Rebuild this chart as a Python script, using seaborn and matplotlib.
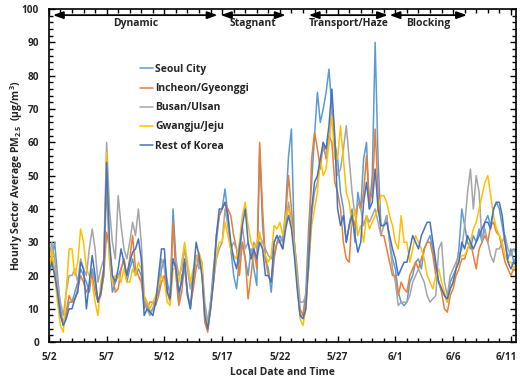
import matplotlib
matplotlib.use('Agg')
import matplotlib.pyplot as plt
import matplotlib.dates as mdates
import matplotlib.transforms as mtransforms
from matplotlib.ticker import MultipleLocator, FixedLocator
import numpy as np
import pandas as pd
import seaborn as sns

sns.set_theme(style='ticks')
plt.rcParams['font.family'] = ['Open Sans', 'DejaVu Sans']
plt.rcParams['font.weight'] = 'bold'
plt.rcParams['mathtext.fontset'] = 'custom'
plt.rcParams['mathtext.rm'] = 'Open Sans:bold'
plt.rcParams['mathtext.it'] = 'Open Sans:bold'
plt.rcParams['mathtext.bf'] = 'Open Sans:bold'

# 6-hourly values, starting 2016-05-02 00:00
seoul = [22,25,30,20, 10,5,8,12, 12,15,18,22, 20,18,15,22, 18,12,15,20,
         48,25,15,18, 20,22,25,18, 22,25,20,22, 20,10,12,9, 10,13,15,22,
         25,18,14,40, 25,12,20,22, 15,10,18,26, 24,22,8,4, 12,22,30,38,
         40,46,38,28, 20,16,25,30, 25,20,28,22, 17,58,35,25, 22,15,25,30,
         32,30,40,56, 64,30,18,8, 8,15,35,48, 62,75,66,70, 75,82,70,60,
         55,45,40,30, 35,40,30,45, 40,55,60,40, 50,90,55,35, 35,38,30,25,
         22,15,12,11, 12,18,20,24, 25,22,28,30, 32,28,22,18, 16,14,12,18,
         20,22,28,40, 35,30,28,32, 30,34,30,36, 38,35,40,42, 40,35,30,25,
         28,24,26]
incheon = [20,25,22,15, 8,6,9,14, 12,13,16,20, 18,15,17,20, 15,12,14,20,
           33,28,20,15, 16,22,25,20, 25,32,22,20, 18,12,10,12, 12,11,14,18,
           20,15,12,36, 20,11,15,24, 14,11,16,22, 26,22,6,3, 10,20,32,38,
           40,42,40,38, 32,28,20,30, 25,13,20,28, 22,60,40,25, 20,18,26,30,
           30,28,38,50, 40,30,20,10, 8,12,28,55, 63,58,52,60, 55,62,60,48,
           45,40,30,25, 24,38,35,42, 40,45,56,42, 45,64,45,32, 32,28,24,20,
           20,14,18,16, 15,20,22,24, 22,25,28,30, 30,26,20,18, 15,10,9,14,
           16,20,22,25, 25,28,30,26, 22,28,30,32, 30,35,36,33, 32,28,24,22,
           20,22,21]
busan = [25,30,25,18, 12,8,15,20, 20,22,18,25, 22,20,28,34, 28,18,22,25,
         60,40,30,25, 44,35,28,25, 30,36,32,40, 30,14,10,8, 10,12,18,25,
         22,16,15,25, 25,20,22,28, 22,16,20,26, 22,24,12,6, 12,18,25,28,
         30,40,35,28, 30,28,25,35, 28,30,26,30, 28,32,30,28, 26,25,30,32,
         30,32,35,42, 36,30,22,12, 12,14,22,38, 45,48,55,58, 56,60,70,60,
         50,52,58,65, 55,45,38,42, 40,35,38,36, 38,40,36,32, 35,38,30,22,
         18,11,12,12, 12,14,18,20, 22,20,18,14, 12,13,14,28, 30,18,14,20,
         22,24,26,28, 35,45,52,40, 50,45,30,34, 30,26,24,28, 28,30,32,28,
         26,28,26]
gwangju = [18,28,20,12, 5,3,15,28, 28,20,24,34, 30,22,20,18, 12,8,18,22,
           57,25,18,20, 20,18,22,18, 18,22,20,24, 22,14,12,10, 12,14,17,20,
           18,12,11,22, 22,18,24,30, 24,18,22,25, 27,24,8,5, 10,18,26,30,
           30,36,32,28, 26,25,30,38, 42,35,30,28, 30,33,28,26, 24,26,35,34,
           36,32,38,40, 35,28,18,7, 5,10,24,35, 40,45,55,50, 52,60,68,55,
           55,65,55,45, 42,35,40,32, 35,30,38,34, 36,38,40,44, 44,42,38,35,
           30,28,38,30, 30,24,28,32, 30,28,25,20, 18,16,20,22, 18,15,12,16,
           18,22,25,26, 26,28,30,34, 36,40,44,48, 50,44,38,34, 32,30,26,24,
           24,22,24]
rest = [20,24,20,15, 8,5,7,10, 10,13,15,24, 22,10,18,26, 20,12,15,22,
        54,30,20,18, 22,28,24,20, 24,27,28,31, 25,8,10,9, 8,12,20,28,
        28,15,13,25, 22,15,18,25, 14,10,20,30, 26,20,8,4, 10,18,32,40,
        40,42,38,30, 25,22,28,35, 40,30,25,28, 25,30,28,20, 20,18,30,32,
        30,28,34,38, 34,26,16,8, 7,10,25,40, 48,50,55,60, 58,65,76,62,
        40,35,38,30, 35,38,32,27, 30,42,48,40, 42,52,40,35, 35,36,32,28,
        25,20,22,24, 24,28,32,30, 28,32,34,36, 36,30,24,18, 16,14,13,16,
        18,22,24,30, 28,32,30,28, 30,32,34,36, 36,34,40,42, 42,38,30,24,
        22,24,23]

regions = ['Seoul City', 'Incheon/Gyeonggi', 'Busan/Ulsan', 'Gwangju/Jeju', 'Rest of Korea']
colors = ['#5B9BD5', '#ED7D31', '#A5A5A5', '#FFC000', '#4472C4']

# meteorological phases: name, start day, end day (days after 5/2 00:00)
phase_names = ['Dynamic', 'Stagnant', 'Transport/Haze', 'Blocking']
phase_start = [0.35, 14.9, 22.5, 29.5]
phase_end = [14.6, 20.5, 29.35, 36.2]

t0 = pd.Timestamp('2016-05-02')
times = pd.date_range(t0, periods=len(seoul), freq='6h')
df = pd.DataFrame({'time': times})
for name, vals in zip(regions, [seoul, incheon, busan, gwangju, rest]):
    df[name] = vals
long = df.melt(id_vars='time', var_name='region', value_name='pm')

fig = plt.figure(figsize=(5.2, 3.81), dpi=100)
ax = fig.add_axes([0.094, 0.102, 0.898, 0.874])

sns.lineplot(data=long, x='time', y='pm', hue='region', hue_order=regions,
             palette=colors, linewidth=1.1, ax=ax)

ax.set_xlim(t0, t0 + pd.Timedelta(days=40.43))
ax.set_ylim(0, 100)
major_days = pd.date_range(t0, periods=9, freq='5D')
ax.xaxis.set_major_locator(FixedLocator(mdates.date2num(major_days)))
ax.xaxis.set_minor_locator(mdates.DayLocator())
ax.xaxis.set_major_formatter(mdates.DateFormatter('%-m/%-d'))
ax.yaxis.set_major_locator(MultipleLocator(10))
ax.yaxis.set_minor_locator(MultipleLocator(2))
ax.tick_params(which='both', direction='in', top=True, right=True, color='black', width=1)
ax.tick_params(which='major', length=4, labelsize=7.2, pad=7)
ax.tick_params(which='minor', length=3)
for s in ax.spines.values():
    s.set_color('black')
    s.set_linewidth(1.2)

ax.set_xlabel('Local Date and Time', fontsize=7.5, fontweight='bold', labelpad=3)
ax.set_ylabel(r'Hourly Sector Average PM$_{2.5}$  (µg/m$^3$)', fontsize=7.5, fontweight='bold')
ax.yaxis.set_label_coords(-0.052, 0.5)

for name, a, b in zip(phase_names, phase_start, phase_end):
    xa = t0 + pd.Timedelta(days=a)
    xb = t0 + pd.Timedelta(days=b)
    ax.annotate('', xy=(xb, 98.2), xytext=(xa, 98.2),
                arrowprops=dict(arrowstyle='<|-|>,head_length=0.5,head_width=0.18',
                                color='black', lw=1.3, shrinkA=0, shrinkB=0))
    ax.text(xa + (xb - xa) / 2, 95.6, name, ha='center', va='center', fontsize=7.5, fontweight='bold')

handles, labels = ax.get_legend_handles_labels()
ax.legend(handles, labels, loc='upper left', bbox_to_anchor=(0.195, 0.835), frameon=False,
          handlelength=1.3, handletextpad=0.15, labelspacing=0.78,
          borderpad=0, borderaxespad=0, prop={'weight': 'bold', 'size': 7.5})

# nudge the last date label so it stays inside the canvas
fig.canvas.draw()
last = ax.get_xticklabels()[-1]
last.set_transform(last.get_transform() + mtransforms.ScaledTranslation(-3 / 72, 0, fig.dpi_scale_trans))

fig.savefig('out.png', dpi=100)
